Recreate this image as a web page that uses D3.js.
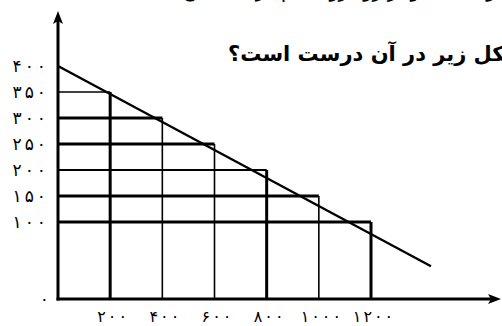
<!DOCTYPE html>
<html>
<head>
<meta charset="utf-8">
<script src="https://cdn.jsdelivr.net/npm/d3@7"></script>
<style>
  body { margin: 0; background: #fff; }
  svg { display: block; }
  text { font-family: "DejaVu Sans", sans-serif; fill: #000; }
</style>
</head>
<body>
<div id="chart"></div>
<script>
var width = 502, height = 326;

// values
var yTicks = [100, 150, 200, 250, 300, 350, 400];
var xTicks = [200, 400, 600, 800, 1000, 1200];
var yLabels = ["۱۰۰", "۱۵۰", "۲۰۰", "۲۵۰", "۳۰۰", "۳۵۰", "۴۰۰"];
var xLabels = ["۲۰۰", "۴۰۰", "۶۰۰", "۸۰۰", "۱۰۰۰", "۱۲۰۰"];
var zeroLabel = "۰";
var linePoints = [[0, 400], [1430, 42.5]];   // straight line y = 400 - x/4
var titleText = "شکل زیر در آن درست است؟";
var topText = "با توجه به نمودار روبه‌رو، کدام گزینه صحیح";

// thick / thin grid strokes (style only)
var hWeight = { 100: 3, 150: 3, 200: 2, 250: 3, 300: 3, 350: 1.6 };
var vWeight = { 200: 3, 400: 1.6, 600: 1.6, 800: 3, 1000: 1.6, 1200: 3 };

var x = d3.scaleLinear().domain([0, 1200]).range([58, 371]);
// the axis is broken between 0 and 100
var y = d3.scaleLinear().domain([0, 100, 400]).range([299, 222, 66]);

// each grid line stops where it meets the slanted line
function lineY(v) { return 400 - v / 4; }
function lineX(v) { return (400 - v) * 4; }

// spread the digits out like the scanned font does
function spread(s, gap) {
    return s.split("").map(function(c, i) { return i ? gap : 0; }).join(" ");
}

var svg = d3.select("#chart").append("svg")
    .attr("width", width)
    .attr("height", height);

// horizontal grid
svg.selectAll(".hgrid")
    .data(yTicks.filter(function(d) { return d < 400; }))
    .enter().append("line")
    .attr("class", "hgrid")
    .attr("x1", x(0))
    .attr("x2", function(d) { return x(lineX(d)); })
    .attr("y1", function(d) { return y(d); })
    .attr("y2", function(d) { return y(d); })
    .attr("stroke", "#000")
    .attr("stroke-width", function(d) { return hWeight[d]; });

// vertical grid
svg.selectAll(".vgrid")
    .data(xTicks)
    .enter().append("line")
    .attr("class", "vgrid")
    .attr("x1", function(d) { return x(d); })
    .attr("x2", function(d) { return x(d); })
    .attr("y1", y(0))
    .attr("y2", function(d) { return y(lineY(d)); })
    .attr("stroke", "#000")
    .attr("stroke-width", function(d) { return vWeight[d]; });

// the slanted line
svg.append("path")
    .datum(linePoints)
    .attr("d", d3.line().x(function(d) { return x(d[0]); }).y(function(d) { return y(d[1]); }))
    .attr("fill", "none")
    .attr("stroke", "#000")
    .attr("stroke-width", 2.4);

// axes with arrows
svg.append("line")
    .attr("x1", x(0)).attr("x2", x(0))
    .attr("y1", y(0) + 1.5).attr("y2", 20)
    .attr("stroke", "#000").attr("stroke-width", 3);
svg.append("path")
    .attr("d", "M" + x(0) + ",11 L" + (x(0) - 5) + ",24 L" + x(0) + ",21 L" + (x(0) + 5) + ",24 Z")
    .attr("fill", "#000");

svg.append("line")
    .attr("x1", x(0) - 1.5).attr("x2", 492)
    .attr("y1", y(0)).attr("y2", y(0))
    .attr("stroke", "#000").attr("stroke-width", 3);
svg.append("path")
    .attr("d", "M501," + y(0) + " L488," + (y(0) - 5) + " L491," + y(0) + " L488," + (y(0) + 5) + " Z")
    .attr("fill", "#000");

// tick labels
svg.selectAll(".ylab")
    .data(yTicks)
    .enter().append("text")
    .attr("class", "ylab")
    .attr("x", 46)
    .attr("y", function(d) { return y(d); })
    .attr("dy", "0.35em")
    .attr("text-anchor", "end")
    .style("font-size", "17px")
    .text(function(d, i) { return yLabels[i]; })
    .attr("dx", function(d, i) { return spread(yLabels[i], 3); });

svg.append("text")
    .attr("x", 49)
    .attr("y", y(0))
    .attr("dy", "0.35em")
    .attr("text-anchor", "end")
    .style("font-size", "17px")
    .text(zeroLabel);

svg.selectAll(".xlab")
    .data(xTicks)
    .enter().append("text")
    .attr("class", "xlab")
    .attr("x", function(d) { return x(d) + 2; })
    .attr("y", 322)
    .attr("text-anchor", "middle")
    .style("font-size", "16px")
    .text(function(d, i) { return xLabels[i]; })
    .attr("dx", function(d, i) { return spread(xLabels[i], 2); });

// question text (cut off by the picture edges, as in the source)
svg.append("text")
    .attr("x", 228)
    .attr("y", 61)
    .attr("direction", "rtl")
    .attr("text-anchor", "end")
    .style("font-size", "21px")
    .style("font-weight", "bold")
    .text(titleText);

svg.append("text")
    .attr("x", 182)
    .attr("y", -3)
    .attr("direction", "rtl")
    .attr("text-anchor", "end")
    .style("font-size", "19px")
    .text(topText);
</script>
</body>
</html>
